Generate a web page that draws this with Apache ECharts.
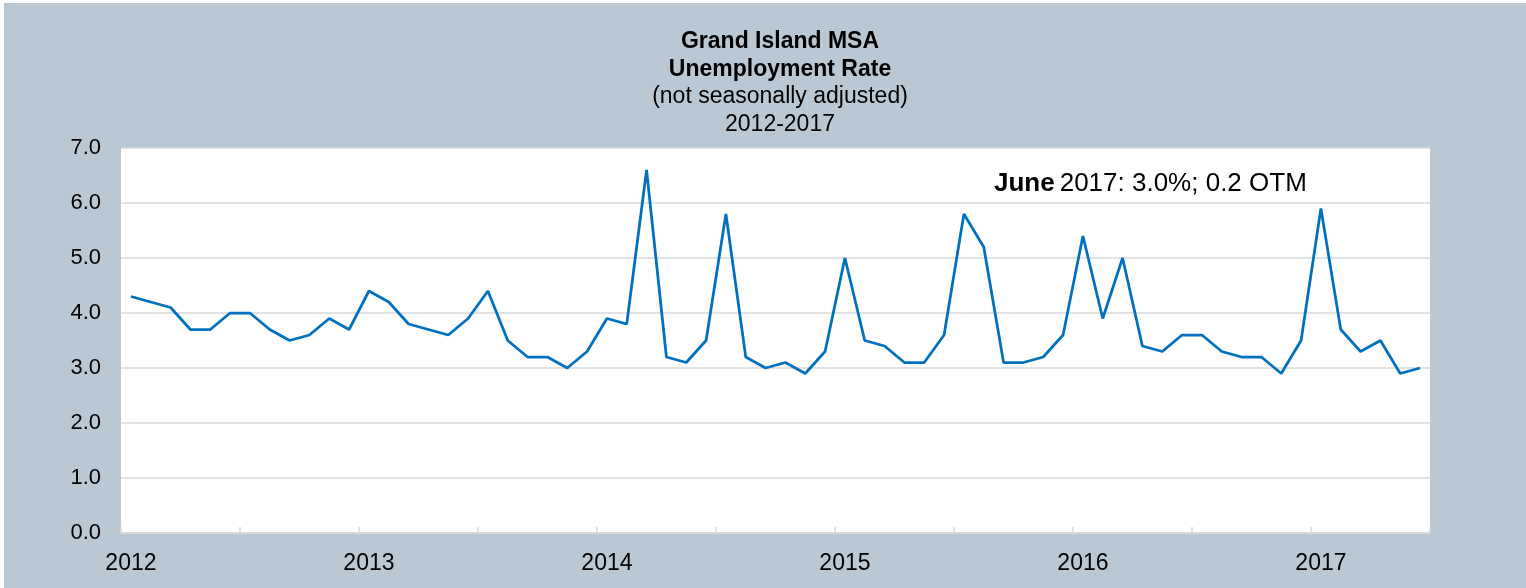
<!DOCTYPE html>
<html>
<head>
<meta charset="utf-8">
<script src="https://cdn.jsdelivr.net/npm/echarts@6/dist/echarts.min.js"></script>
<style>
    html, body { margin: 0; padding: 0; background: #ffffff; }
    #chart {
        position: absolute;
        left: 4px;
        top: 3px;
        width: 1522px;
        height: 585px;
    }
</style>
</head>
<body>
<div id="chart"></div>
<script>
// monthly, Jan 2012 .. Jun 2017
const years = [2012, 2013, 2014, 2015, 2016, 2017];
const months = [];
years.forEach(y => {
    for (let m = 1; m <= 12; m++) {
        if (y === 2017 && m > 6) break;
        months.push(y + '-' + (m < 10 ? '0' + m : m));
    }
});

const rate = [
    4.3, 4.2, 4.1, 3.7, 3.7, 4.0, 4.0, 3.7, 3.5, 3.6, 3.9, 3.7,
    4.4, 4.2, 3.8, 3.7, 3.6, 3.9, 4.4, 3.5, 3.2, 3.2, 3.0, 3.3,
    3.9, 3.8, 6.6, 3.2, 3.1, 3.5, 5.8, 3.2, 3.0, 3.1, 2.9, 3.3,
    5.0, 3.5, 3.4, 3.1, 3.1, 3.6, 5.8, 5.2, 3.1, 3.1, 3.2, 3.6,
    5.4, 3.9, 5.0, 3.4, 3.3, 3.6, 3.6, 3.3, 3.2, 3.2, 2.9, 3.5,
    5.9, 3.7, 3.3, 3.5, 2.9, 3.0
];

const titleLines = [
    'Grand Island MSA',
    'Unemployment Rate',
    '(not seasonally adjusted)',
    '2012-2017'
];

const chart = echarts.init(document.getElementById('chart'), null, { renderer: 'canvas' });

const font = '"Liberation Sans", Arial, sans-serif';

chart.setOption({
    backgroundColor: '#bac8d3',
    animation: false,
    textStyle: { fontFamily: font },
    title: [
        {
            text: '{b|' + titleLines[0] + '}\n{b|' + titleLines[1] + '}\n{n|' + titleLines[2] + '}\n{n|' + titleLines[3] + '}',
            left: 771,
            top: 20,
            textAlign: 'center',
            textStyle: {
                fontWeight: 'normal',
                rich: {
                    b: { fontSize: 23, fontWeight: 'bold', color: '#000', lineHeight: 27.5, fontFamily: font },
                    n: { fontSize: 23, fontWeight: 'normal', color: '#000', lineHeight: 27.5, fontFamily: font }
                }
            }
        },
        {
            text: '{b|June} {n|2017: 3.0%; 0.2 OTM}',
            left: 985,
            top: 163,
            textStyle: {
                fontWeight: 'normal',
                rich: {
                    b: { fontSize: 26, fontWeight: 'bold', color: '#000', fontFamily: font },
                    n: { fontSize: 26, fontWeight: 'normal', color: '#000', fontFamily: font }
                }
            }
        }
    ],
    grid: {
        left: 117,
        top: 145,
        width: 1309,
        height: 385,
        show: true,
        backgroundColor: '#ffffff',
        borderWidth: 0
    },
    xAxis: {
        type: 'category',
        data: months,
        boundaryGap: true,
        axisLine: { lineStyle: { color: '#d9d9d9', width: 2 } },
        axisTick: {
            show: true,
            inside: true,
            length: 6,
            interval: 5,
            lineStyle: { color: '#d9d9d9', width: 1.5 }
        },
        axisLabel: {
            interval: 11,
            color: '#000',
            fontSize: 23,
            margin: 19,
            formatter: v => v.slice(0, 4)
        },
        splitLine: { show: false }
    },
    yAxis: {
        type: 'value',
        min: 0,
        max: 7,
        interval: 1,
        axisLine: { show: false },
        axisTick: { show: false },
        axisLabel: {
            color: '#000',
            fontSize: 22,
            margin: 20,
            formatter: v => v.toFixed(1)
        },
        splitLine: { lineStyle: { color: '#d9d9d9', width: 1.5 } }
    },
    series: [
        {
            name: 'Unemployment Rate',
            type: 'line',
            data: rate,
            symbol: 'none',
            lineStyle: { color: '#0070c0', width: 2.75 }
        }
    ]
});
</script>
</body>
</html>
